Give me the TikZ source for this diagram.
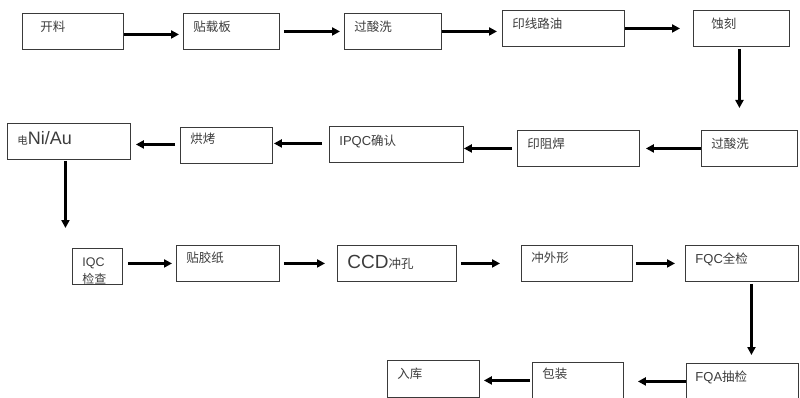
\documentclass[tikz,border=0pt]{standalone}
\usepackage{fontspec}
\setmainfont{Liberation Sans}
\newfontfamily\cjk{Noto Sans CJK SC}
\newcommand\latn[1]{{\rmfamily #1}}
\usetikzlibrary{arrows.meta}
\definecolor{boxline}{HTML}{3A3A3A}
\definecolor{txtgray}{HTML}{3C3C3C}
\tikzset{
  stepbox/.style={draw=boxline, line width=0.9pt, anchor=north west, align=left,
    inner xsep=10pt, inner ysep=0pt, text height=18pt, text depth=18pt,
    text=txtgray, font=\cjk\fontsize{12.5}{14}\selectfont},
  flow/.style={line width=2.2pt, -{Triangle[length=8pt,width=8pt]}}
}

\begin{document}
\begin{tikzpicture}[x=1pt,y=-1pt]
  \useasboundingbox (0,0) rectangle (800,398);
  % first row
  \node[stepbox, inner xsep=18pt, text width=65pt] (kl) at (22,13) {开料};
  \node[stepbox, text width=76pt] (tzb) at (183,13) {贴载板};
  \node[stepbox, text width=77pt] (sx1) at (344,13) {过酸洗};
  \node[stepbox, text width=102pt] (yxly) at (502,10) {印线路油};
  \node[stepbox, inner xsep=18pt, text width=60pt] (sk) at (693,10) {蚀刻};
  % second row
  \node[stepbox, text width=76pt] (sx2) at (701,130) {过酸洗};
  \node[stepbox, text width=102pt] (yzh) at (517,130) {印阻焊};
  \node[stepbox, text width=114pt, text height=19pt, text depth=17pt] (ipqc) at (329,126) {\latn{\fontsize{13}{15}\selectfont IPQC}确认};
  \node[stepbox, text width=72pt, text height=16pt, text depth=20pt] (hk) at (180,127) {烘烤};
  \node[stepbox, text width=103pt, text height=21pt, text depth=15pt] (dd) at (7,123) {\fontsize{10.5}{12}\selectfont 电\latn{\fontsize{18}{20}\selectfont Ni/Au}};
  % third row
  \node[stepbox, text width=30pt, text height=18pt, text depth=18pt, font=\cjk\fontsize{12}{17}\selectfont] (iqc) at (72,248) {\latn{\fontsize{12.5}{17}\selectfont IQC}\\检查};
  \node[stepbox, text width=83pt, text height=17pt, text depth=19pt] (tjz) at (176,245) {贴胶纸};
  \node[stepbox, text width=99pt, text height=23pt, text depth=13pt] (ccd) at (337,245) {\latn{\fontsize{19}{21}\selectfont CCD}冲孔};
  \node[stepbox, text width=91pt, text height=17pt, text depth=19pt] (cwx) at (521,245) {冲外形};
  \node[stepbox, text width=93pt] (fqc) at (685,245) {\latn{\fontsize{13}{15}\selectfont FQC}全检};
  % last row
  \node[stepbox, inner xsep=9pt, text width=94pt, text height=18pt, text depth=18pt] (fqa) at (686,363) {\latn{\fontsize{13}{15}\selectfont FQA}抽检};
  \node[stepbox, text width=71pt, text height=16pt, text depth=20pt] (bz) at (532,362) {包装};
  \node[stepbox, text width=72pt, text height=18pt, text depth=19pt] (rk) at (387,360) {入库};

  \draw[flow, shorten >=4pt] ([yshift=-3pt]kl.east) -- ([yshift=-3pt]kl.east -| tzb.west);
  \draw[flow, shorten <=4pt, shorten >=4pt] (tzb.east) -- (tzb.east -| sx1.west);
  \draw[flow, shorten >=5pt] (sx1.east) -- (sx1.east -| yxly.west);
  \draw[flow, shorten >=13pt] (yxly.east) -- (yxly.east -| sk.west);
  \draw[flow, shorten <=2pt, shorten >=22pt] ([xshift=-2pt]sk.south) -- ([xshift=-2pt]sk.south |- sx2.north);
  \draw[flow, shorten >=6pt] (sx2.west) -- (sx2.west -| yzh.east);
  \draw[flow, shorten <=5pt] (yzh.west) -- (yzh.west -| ipqc.east);
  \draw[flow, shorten <=7pt, shorten >=1pt] ([yshift=1pt]ipqc.west) -- ([yshift=1pt]ipqc.west -| hk.east);
  \draw[flow, shorten <=5pt, shorten >=5pt] ([yshift=1pt]hk.west) -- ([yshift=1pt]hk.west -| dd.east);
  \draw[flow, shorten <=1pt, shorten >=20pt] ([xshift=-3.5pt]dd.south) -- ([xshift=-3.5pt]dd.south |- iqc.north);
  \draw[flow, shorten <=5pt, shorten >=4pt] (tjz.west -| iqc.east) -- (tjz.west);
  \draw[flow, shorten <=4pt, shorten >=12pt] (tjz.east) -- (tjz.east -| ccd.west);
  \draw[flow, shorten <=4pt, shorten >=21pt] (ccd.east) -- (ccd.east -| cwx.west);
  \draw[flow, shorten <=3pt, shorten >=10pt] (cwx.east) -- (cwx.east -| fqc.west);
  \draw[flow, shorten <=2pt, shorten >=8pt] ([xshift=9.5pt]fqc.south) -- ([xshift=9.5pt]fqc.south |- fqa.north);
  \draw[flow, shorten >=14pt] (fqa.west) -- (fqa.west -| bz.east);
  \draw[flow, shorten <=2pt, shorten >=4pt] (bz.west) -- (bz.west -| rk.east);
\end{tikzpicture}
\end{document}
